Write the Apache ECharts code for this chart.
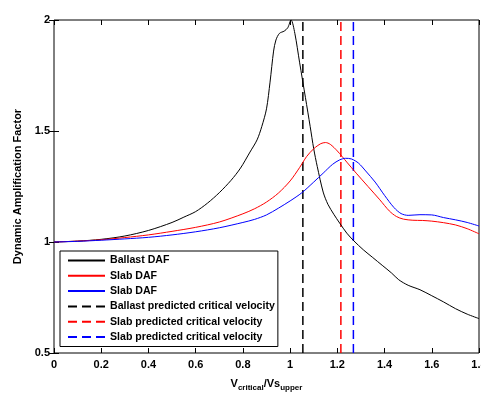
<!DOCTYPE html>
<html>
<head>
<meta charset="utf-8">
<script src="https://cdn.jsdelivr.net/npm/echarts@6/dist/echarts.min.js"></script>
<style>
  html, body { margin: 0; padding: 0; background: #fff; }
  #chart { width: 481px; height: 395px; }
</style>
</head>
<body>
<div id="chart"></div>
<script>
// speed ratio Vcritical / Vs_upper
const ballastX = [0, 0.1, 0.2, 0.3, 0.4, 0.5, 0.55, 0.6, 0.65, 0.7, 0.75, 0.79, 0.83, 0.86, 0.88, 0.9, 0.915, 0.93, 0.94, 0.955, 0.975, 0.99, 1.004, 1.02, 1.04, 1.065, 1.085, 1.1, 1.115, 1.14, 1.16, 1.185, 1.21, 1.24, 1.27, 1.31, 1.35, 1.39, 1.43, 1.46, 1.5, 1.55, 1.6, 1.65, 1.7, 1.75, 1.8];
const ballastY = [1.0, 1.004, 1.012, 1.027, 1.052, 1.088, 1.112, 1.137, 1.175, 1.222, 1.278, 1.333, 1.405, 1.46, 1.52, 1.6, 1.72, 1.86, 1.91, 1.94, 1.95, 1.965, 2.0, 1.94, 1.81, 1.65, 1.52, 1.42, 1.34, 1.225, 1.17, 1.125, 1.085, 1.04, 1.005, 0.965, 0.93, 0.895, 0.86, 0.83, 0.805, 0.785, 0.758, 0.73, 0.7, 0.675, 0.655];

const slabRedX = [0, 0.1, 0.2, 0.3, 0.4, 0.5, 0.6, 0.7, 0.8, 0.85, 0.9, 0.95, 1.0, 1.04, 1.07, 1.1, 1.13, 1.15, 1.17, 1.2, 1.24, 1.28, 1.33, 1.38, 1.42, 1.45, 1.48, 1.52, 1.56, 1.6, 1.65, 1.7, 1.75, 1.8];
const slabRedY = [1.0, 1.004, 1.01, 1.02, 1.032, 1.048, 1.066, 1.09, 1.127, 1.15, 1.18, 1.22, 1.275, 1.335, 1.385, 1.42, 1.443, 1.448, 1.44, 1.41, 1.36, 1.31, 1.25, 1.19, 1.14, 1.115, 1.103, 1.098, 1.097, 1.094, 1.087, 1.077, 1.06, 1.037];

const slabBlueX = [0, 0.1, 0.2, 0.3, 0.4, 0.5, 0.6, 0.7, 0.8, 0.85, 0.9, 0.95, 1.0, 1.05, 1.1, 1.14, 1.18, 1.21, 1.235, 1.26, 1.29, 1.32, 1.36, 1.4, 1.44, 1.47, 1.5, 1.55, 1.6, 1.65, 1.7, 1.75, 1.8];
const slabBlueY = [1.0, 1.003, 1.008, 1.014, 1.021, 1.032, 1.046, 1.064, 1.088, 1.102, 1.122, 1.152, 1.185, 1.222, 1.27, 1.31, 1.35, 1.37, 1.377, 1.374, 1.355, 1.32, 1.27, 1.21, 1.155, 1.128, 1.12, 1.123, 1.122, 1.11, 1.1, 1.088, 1.072];

const criticalVelocities = [1.054, 1.215, 1.268];
// duplicate labels get a zero-width space so the legend keeps all six rows
const seriesNames = ["Ballast DAF", "Slab DAF", "Slab DAF\u200b", "Ballast predicted critical velocity", "Slab predicted critical velocity", "Slab predicted critical velocity\u200b"];
const seriesColors = ["#000000", "#ff0000", "#0000ff"];
const xTicks = { min: 0, max: 1.8, step: 0.2 };
const yTicks = { min: 0.5, max: 2, step: 0.5 };

const font = "'Liberation Sans', Arial, sans-serif";
const zip = (xs, ys) => xs.map((x, i) => [x, ys[i]]);

const curves = [zip(ballastX, ballastY), zip(slabRedX, slabRedY), zip(slabBlueX, slabBlueY)];

const series = [];
curves.forEach((data, i) => {
	series.push({
		name: seriesNames[i],
		type: "line",
		data,
		symbol: "none",
		smooth: 0.3,
		color: seriesColors[i],
		lineStyle: { width: 1, color: seriesColors[i] },
		z: 3,
	});
});
criticalVelocities.forEach((v, i) => {
	series.push({
		name: seriesNames[3 + i],
		type: "line",
		data: [[v, yTicks.min], [v, yTicks.max]],
		symbol: "none",
		color: seriesColors[i],
		lineStyle: { width: 1.5, type: [9, 5], color: seriesColors[i] },
		z: 2,
	});
});

const labelStyle = { color: "#000", fontFamily: font, fontSize: 11, fontWeight: "bold" };

const chart = echarts.init(document.getElementById("chart"), null, { renderer: "canvas" });
chart.setOption({
	animation: false,
	backgroundColor: "#fff",
	grid: {
		left: 54, right: 2, top: 20, bottom: 42,
		outerBoundsMode: "none",
		containLabel: false,
		show: true, borderColor: "#000", borderWidth: 1, backgroundColor: "transparent",
	},
	legend: {
		orient: "vertical",
		left: 60,
		top: 251,
		data: seriesNames,
		itemWidth: 37,
		itemHeight: 13,
		itemGap: 4.3,
		padding: [4, 3, 4, 7],
		borderColor: "#000",
		borderWidth: 1,
		backgroundColor: "#fff",
		selectedMode: false,
		itemStyle: { opacity: 0 },
		textStyle: { ...labelStyle, fontSize: 10.6 },
	},
	xAxis: [
		{
			type: "value",
			min: xTicks.min, max: xTicks.max, interval: xTicks.step,
			axisLine: { show: false },
			axisTick: { inside: true, length: 5, lineStyle: { color: "#000" } },
			splitLine: { show: false },
			axisLabel: { ...labelStyle, margin: 6, showMaxLabel: true },
			name: "{v|V}{s|critical}{v|/Vs}{s|upper}",
			nameLocation: "middle",
			nameGap: 22,
			nameTextStyle: {
				rich: {
					v: { fontFamily: font, fontSize: 11, fontWeight: "bold", color: "#000" },
					s: { fontFamily: font, fontSize: 8, fontWeight: "bold", color: "#000", padding: [9, 0, 0, 0] },
				},
			},
		},
		{
			type: "value", position: "top",
			min: xTicks.min, max: xTicks.max, interval: xTicks.step,
			axisLine: { show: false },
			axisTick: { inside: true, length: 5, lineStyle: { color: "#000" } },
			axisLabel: { show: false },
			splitLine: { show: false },
		},
	],
	yAxis: [
		{
			type: "value",
			min: yTicks.min, max: yTicks.max, interval: yTicks.step,
			axisLine: { show: false },
			axisTick: { inside: true, length: 5, lineStyle: { color: "#000" } },
			splitLine: { show: false },
			axisLabel: { ...labelStyle, margin: 4 },
			name: "Dynamic Amplification Factor",
			nameLocation: "middle",
			nameGap: 28,
			nameTextStyle: { ...labelStyle },
		},
		{
			type: "value", position: "right",
			min: yTicks.min, max: yTicks.max, interval: yTicks.step,
			axisLine: { show: false },
			axisTick: { inside: true, length: 5, lineStyle: { color: "#000" } },
			axisLabel: { show: false },
			splitLine: { show: false },
		},
	],
	series,
});
</script>
</body>
</html>
